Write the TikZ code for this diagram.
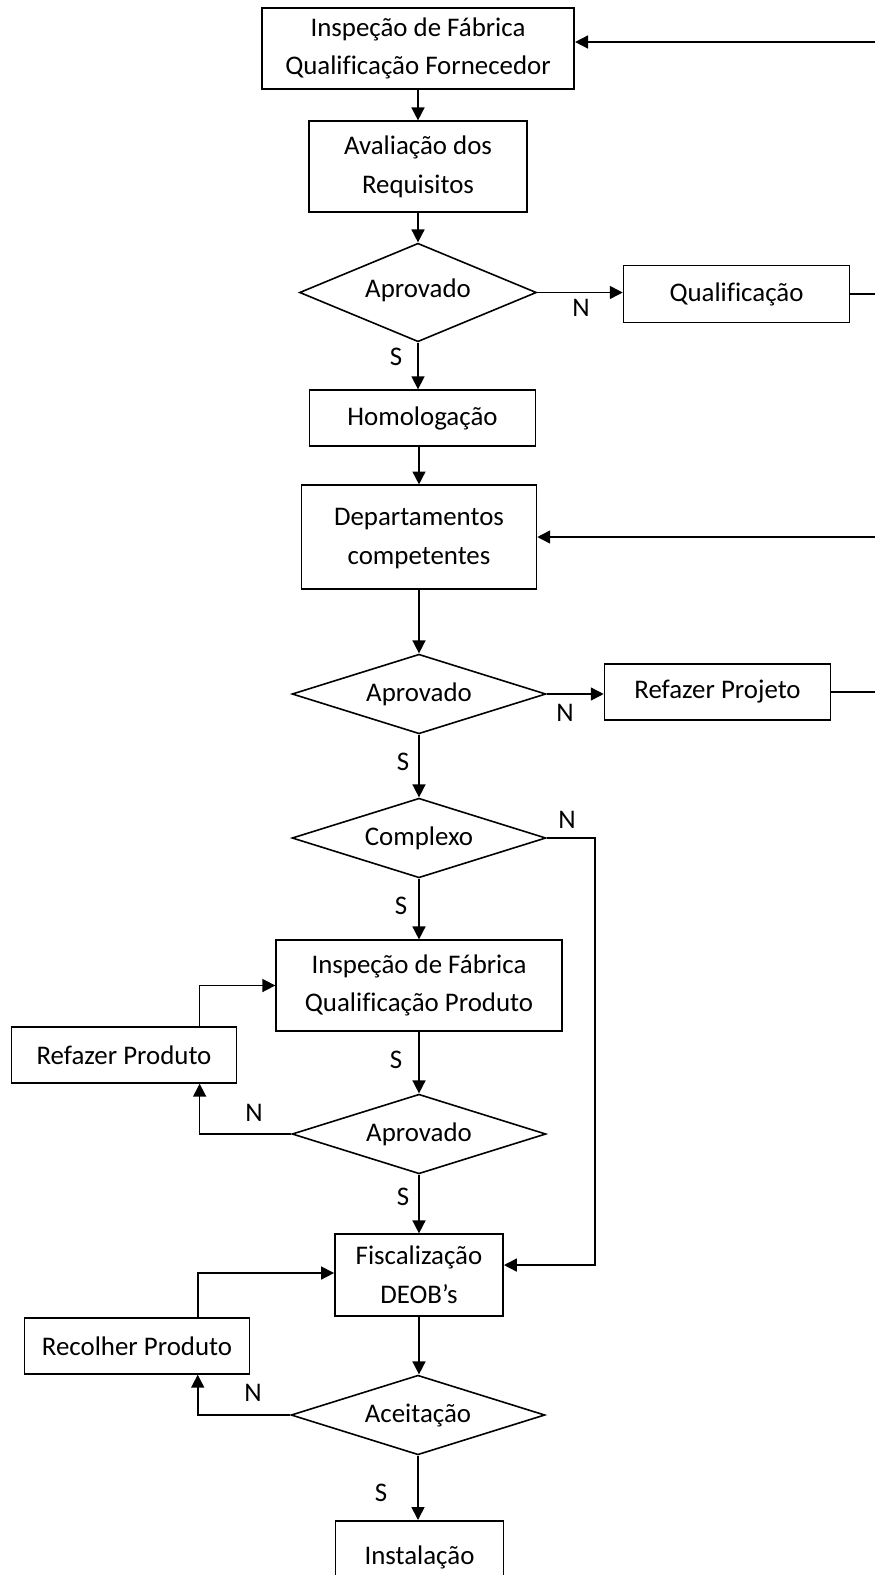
\documentclass[tikz,border=0pt]{standalone}
\usepackage{fontspec}
\setmainfont[Ligatures={NoCommon}]{Carlito}
\usetikzlibrary{shapes.geometric,arrows.meta}
\begin{document}
\begin{tikzpicture}[x=1.0046pt,y=-1.0046pt,
  every node/.style={font=\fontsize{27}{39}\selectfont},
  box/.style={draw,line width=1.6pt,rectangle,align=center,inner sep=0pt},
  dec/.style={draw,line width=1.6pt,diamond,inner sep=0pt,aspect=2.5},
  lbl/.style={inner sep=0pt},
  ln/.style={line width=1.6pt},
  arr/.style={line width=1.6pt,-{Triangle[length=13pt,width=13pt]}}]
\clip (0,0) rectangle (875,1575);
\fill[white] (0,0) rectangle (875,1575);
% nodes
\node[box,minimum width=314pt,minimum height=81pt] (b1) at (418,48.5) {Inspeção de Fábrica\\Qualificação Fornecedor};
\node[box,minimum width=219pt,minimum height=91pt] (b2) at (418,166.5) {Avaliação dos\\Requisitos};
\node[dec,minimum width=238pt,minimum height=99pt] (d1) at (418,292.5) {\raisebox{8pt}{Aprovado}};
\node[box,minimum width=227pt,minimum height=57pt] (q) at (736.5,294) {Qualificação};
\node[box,minimum width=227pt,minimum height=56pt] (homo) at (422.5,418) {Homologação};
\node[box,minimum width=236pt,minimum height=104pt] (dep) at (419,537) {\raisebox{7pt}{\begin{tabular}{@{}c@{}}Departamentos\\competentes\end{tabular}}};
\node[dec,minimum width=255pt,minimum height=80pt] (d2) at (419,694) {\raisebox{4pt}{Aprovado}};
\node[box,minimum width=227pt,minimum height=56pt] (rp) at (717.5,692) {Refazer Projeto};
\node[dec,minimum width=255pt,minimum height=80pt] (d3) at (419,838) {\raisebox{4pt}{Complexo}};
\node[box,minimum width=287pt,minimum height=91pt] (ip) at (419,985.5) {Inspeção de Fábrica\\Qualificação Produto};
\node[box,minimum width=226pt,minimum height=56pt] (rpr) at (124,1055) {Refazer Produto};
\node[dec,minimum width=255pt,minimum height=80pt] (d4) at (419,1134) {\raisebox{3pt}{Aprovado}};
\node[box,minimum width=169pt,minimum height=82pt] (fis) at (419,1275) {Fiscalização\\DEOB’s};
\node[box,minimum width=226pt,minimum height=56pt] (rec) at (137,1346) {Recolher Produto};
\node[dec,minimum width=255pt,minimum height=80pt] (d5) at (418,1415) {\raisebox{2pt}{Aceitação}};
\node[box,minimum width=169pt,minimum height=80pt,anchor=north] (inst) at (419.5,1520) {\raisebox{10pt}{Instalação}};
% edge coordinates
\coordinate (r1) at (875,42);
\coordinate (r2) at (875,294);
\coordinate (r3) at (875,537);
\coordinate (r4) at (875,692);
\coordinate (c1) at (595,838);
% labels
\node[lbl] (n1) at (581,308) {N};
\node[lbl] (s1) at (396,357) {S};
\node[lbl] (n2) at (565,713) {N};
\node[lbl] (s2) at (403,762) {S};
\node[lbl] (n3) at (567,820) {N};
\node[lbl] (s3) at (401,906) {S};
\node[lbl] (s4) at (396,1060) {S};
\node[lbl] (n4) at (254,1113) {N};
\node[lbl] (s5) at (403,1197) {S};
\node[lbl] (n5) at (253,1393) {N};
\node[lbl] (s6) at (381,1493) {S};
% connectors
\draw[arr] (r1) -- (r1 -| b1.east);
\draw[arr] (b1.south) -- (b2.north);
\draw[arr] (b2.south) -- (d1.north);
\draw[arr] (d1.east) -- (d1.east -| q.west);
\draw[ln] (q.east) -- (r2);
\draw[arr] (d1.south) -- (d1.south |- homo.north);
\draw[arr] (homo.south -| dep.north) -- (dep.north);
\draw[arr] (r3) -- (r3 -| dep.east);
\draw[arr] (dep.south) -- (d2.north);
\draw[arr] (d2.east) -- (d2.east -| rp.west);
\draw[ln] (rp.east) -- (r4);
\draw[arr] (d2.south) -- (d3.north);
\draw[arr] (d3.east) -- (d3.east -| c1) |- ([yshift=10pt]fis.east);
\draw[arr] (d3.south) -- (ip.north);
\draw[arr] (ip.south) -- (d4.north);
\draw[arr] (d4.west) -| ([xshift=76pt]rpr.south);
\draw[arr] ([xshift=76pt]rpr.north) |- (ip.west);
\draw[arr] (d4.south) -- (fis.north);
\draw[arr] (fis.south) -- (fis.south |- d5.north);
\draw[arr] (d5.west) -| ([xshift=61pt]rec.south);
\draw[arr] ([xshift=61pt]rec.north) |- ([yshift=2pt]fis.west);
\draw[arr] (d5.south) -- (d5.south |- inst.north);
\end{tikzpicture}
\end{document}
